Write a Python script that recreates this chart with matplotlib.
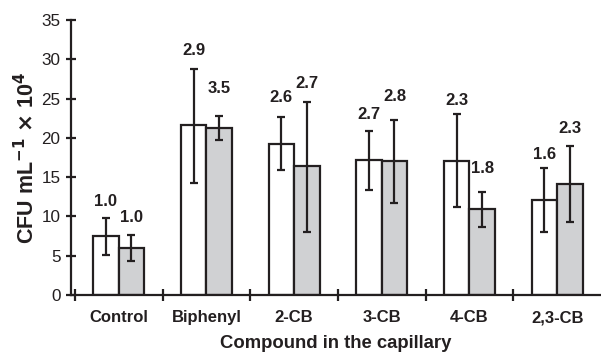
import matplotlib
matplotlib.use("Agg")
import matplotlib.pyplot as plt
import numpy as np

plt.rcParams["font.family"] = ["Liberation Sans", "DejaVu Sans"]

compounds = ["Control", "Biphenyl", "2-CB", "3-CB", "4-CB", "2,3-CB"]
open_mean = [7.5, 21.6, 19.2, 17.2, 17.0, 12.1]
open_hi = [9.8, 28.8, 22.6, 20.9, 23.0, 16.1]
open_lo = [5.1, 14.3, 15.9, 13.3, 11.2, 8.0]
grey_mean = [6.0, 21.3, 16.4, 17.0, 10.9, 14.1]
grey_hi = [7.6, 22.8, 24.5, 22.3, 13.1, 18.9]
grey_lo = [4.3, 19.7, 8.05, 11.7, 8.7, 9.3]
open_ratio = ["1.0", "2.9", "2.6", "2.7", "2.3", "1.6"]
grey_ratio = ["1.0", "3.5", "2.7", "2.8", "1.8", "2.3"]
# gap in points between the top of the error bar and the ratio label
open_gap = [12, 13, 14, 12, 10, 10]
grey_gap = [13, 20, 14, 17, 17, 13]

ink = "#231f20"
x = np.arange(len(compounds))
w = 0.29

fig = plt.figure(figsize=(6.01, 3.54), dpi=100)
ax = fig.add_axes([0.118, 0.1667, 0.882, 0.777])

for xs, mean, hi, lo, color in [
    (x - w / 2, open_mean, open_hi, open_lo, "white"),
    (x + w / 2, grey_mean, grey_hi, grey_lo, "#d0d1d3"),
]:
    mean = np.array(mean)
    err = [mean - np.array(lo), np.array(hi) - mean]
    ax.bar(xs, mean, width=w, color=color, edgecolor=ink, linewidth=1.6, zorder=2)
    ax.errorbar(xs, mean, yerr=err, fmt="none", ecolor=ink, elinewidth=1.6,
                capsize=3.2, capthick=1.6, zorder=3)

for xs, hi, labels, gaps in [
    (x - w / 2, open_hi, open_ratio, open_gap),
    (x + w / 2, grey_hi, grey_ratio, grey_gap),
]:
    for xi, h, lab, g in zip(xs, hi, labels, gaps):
        ax.annotate(lab, xy=(xi, h), xytext=(0, g), textcoords="offset points",
                    ha="center", va="center", fontsize=12, fontweight="bold",
                    color=ink)

ax.set_xlim(-0.545, 5.5)
ax.set_ylim(0, 35)
ax.set_yticks(range(0, 36, 5))
ax.set_xticks(x)
ax.set_xticklabels(compounds, fontsize=12, fontweight="bold", color=ink)
ax.set_xticks(np.arange(-0.5, 5, 1), minor=True)
ax.tick_params(axis="x", which="major", length=0, pad=11)
ax.tick_params(axis="x", which="minor", direction="inout", length=8, width=1.6, color=ink)
ax.tick_params(axis="y", direction="inout", length=7, width=1.6, color=ink,
               labelsize=12.3, labelcolor=ink, pad=4)
for side in ["top", "right"]:
    ax.spines[side].set_visible(False)
for side in ["left", "bottom"]:
    ax.spines[side].set_linewidth(1.6)
    ax.spines[side].set_color(ink)

ax.set_ylabel(r"CFU mL$^{\mathbf{-1}}$ $\mathbf{\times}$ 10$^{\mathbf{4}}$",
              fontsize=15.5, fontweight="bold", color=ink, labelpad=2)
ax.set_xlabel("Compound in the capillary", fontsize=13.3, fontweight="bold",
              color=ink, labelpad=7)

fig.savefig("out.png", dpi=100)
